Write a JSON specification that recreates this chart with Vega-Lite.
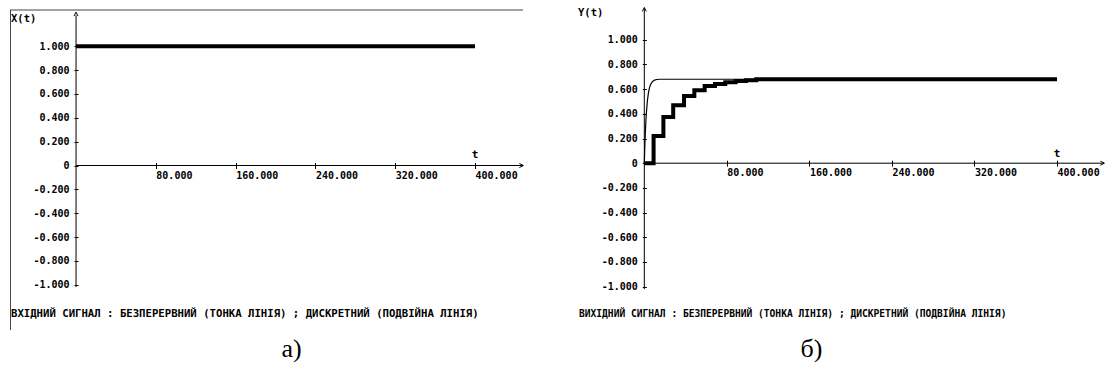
{
  "$schema": "https://vega.github.io/schema/vega-lite/v6.json",
  "padding": {"left": 9, "top": 5, "right": 0, "bottom": 0},
  "background": "white",
  "config": {"view": {"stroke": null}, "axis": {"grid": false, "labelOverlap": false, "labelBound": false, "labelFlush": false}},
  "spacing": 55,
  "bounds": "flush",
  "datasets": {
    "one": [{"k": 1}],
    "a_cont": [{"t": 0, "v": 1}, {"t": 400, "v": 1}],
    "a_disc": [{"t": 0, "v": 1}, {"t": 400, "v": 1}],
    "b_cont": [
      {"t": 0, "v": 0}, {"t": 0.5, "v": 0.138}, {"t": 1, "v": 0.248}, {"t": 1.5, "v": 0.336},
      {"t": 2, "v": 0.406}, {"t": 3, "v": 0.506}, {"t": 4, "v": 0.57}, {"t": 5, "v": 0.61},
      {"t": 6, "v": 0.636}, {"t": 8, "v": 0.662}, {"t": 10, "v": 0.673}, {"t": 12, "v": 0.678},
      {"t": 15, "v": 0.68}, {"t": 400, "v": 0.68}
    ],
    "b_disc": [
      {"t": 0, "v": 0}, {"t": 9, "v": 0.22}, {"t": 18.5, "v": 0.375}, {"t": 28, "v": 0.47},
      {"t": 38.5, "v": 0.545}, {"t": 48.5, "v": 0.59}, {"t": 58.5, "v": 0.625}, {"t": 68.5, "v": 0.642},
      {"t": 78.5, "v": 0.655}, {"t": 88.5, "v": 0.665}, {"t": 98.5, "v": 0.672}, {"t": 108.5, "v": 0.68},
      {"t": 400, "v": 0.68}
    ]
  },
  "hconcat": [
    {
      "width": 513,
      "height": 325,
      "title": {"text": "а)", "orient": "bottom", "anchor": "middle", "dx": 25, "offset": 4, "font": "Liberation Serif", "fontSize": 26, "fontWeight": "normal", "color": "black"},
      "layer": [
        {
          "data": {"name": "a_cont"},
          "mark": {"type": "line", "color": "black", "strokeWidth": 1.2},
          "encoding": {
            "x": {"field": "t", "type": "quantitative", "scale": {"domain": [-66.2, 448.1], "nice": false, "zero": false},
              "axis": {"orient": "bottom", "offset": -169.5, "domain": false, "tickSize": 6, "tickColor": "black", "tickCount": 30, "values": [80, 160, 240, 320, 400], "format": ".3f", "labelAlign": "left", "labelBaseline": "top", "labelPadding": 1.5, "labelDx": 1, "labelFont": "DejaVu Sans Mono", "labelFontSize": 10, "labelFontWeight": "bold", "labelColor": "black", "labelOverlap": false, "labelFlush": false, "labelBound": false, "title": null}},
            "y": {"field": "v", "type": "quantitative", "scale": {"domain": [-1.3968, 1.3297], "nice": false, "zero": false},
              "axis": {"orient": "left", "offset": -68, "domain": false, "tickSize": 4, "tickColor": "black", "tickCount": 30, "values": [-1, -0.8, -0.6, -0.4, -0.2, 0, 0.2, 0.4, 0.6, 0.8, 1], "labelExpr": "datum.value == 0 ? '0' : replace(format(datum.value, '.3f'), '\u2212', '-')", "labelPadding": 5, "labelFont": "DejaVu Sans Mono", "labelFontSize": 10, "labelFontWeight": "bold", "labelColor": "black", "labelOverlap": false, "labelBound": false, "title": null}}
          }
        },
        {
          "data": {"name": "a_disc"},
          "mark": {"type": "line", "color": "black", "strokeWidth": 4, "strokeCap": "butt"},
          "encoding": {
            "x": {"field": "t", "type": "quantitative", "scale": {"domain": [-66.2, 448.1]}},
            "y": {"field": "v", "type": "quantitative", "scale": {"domain": [-1.3968, 1.3297]}}
          }
        },
        {
          "data": {"name": "one"},
          "mark": {"type": "rule", "color": "black", "strokeWidth": 1},
          "encoding": {"x": {"datum": 0, "type": "quantitative"}, "y": {"datum": -1.02, "type": "quantitative"}, "y2": {"datum": 1.26}}
        },
        {
          "data": {"name": "one"},
          "mark": {"type": "rule", "color": "black", "strokeWidth": 1},
          "encoding": {"x": {"datum": 0, "type": "quantitative"}, "x2": {"datum": 448}, "y": {"datum": 0, "type": "quantitative"}}
        },
        {
          "data": {"name": "one"},
          "mark": {"type": "rule", "color": "#444444", "strokeWidth": 1},
          "encoding": {"x": {"datum": -66.2, "type": "quantitative"}, "x2": {"datum": 448.1}, "y": {"datum": 1.3045, "type": "quantitative"}}
        },
        {
          "data": {"name": "one"},
          "mark": {"type": "rule", "color": "#444444", "strokeWidth": 1},
          "encoding": {"x": {"datum": -65.7, "type": "quantitative"}, "y": {"datum": -1.38, "type": "quantitative"}, "y2": {"datum": 1.3045}}
        },
        {
          "data": {"name": "one"},
          "mark": {"type": "point", "shape": "M-1,1L0,-1L1,1", "size": 16, "filled": false, "stroke": "black", "strokeWidth": 1, "opacity": 1},
          "encoding": {"x": {"datum": 0, "type": "quantitative"}, "y": {"datum": 1.27, "type": "quantitative"}}
        },
        {
          "data": {"name": "one"},
          "mark": {"type": "point", "shape": "M-1,-1L1,0L-1,1", "size": 16, "filled": false, "stroke": "black", "strokeWidth": 1, "opacity": 1},
          "encoding": {"x": {"datum": 446.5, "type": "quantitative"}, "y": {"datum": 0, "type": "quantitative"}}
        },
        {
          "data": {"name": "one"},
          "mark": {"type": "text", "text": "X(t)", "align": "left", "baseline": "alphabetic", "dx": 1, "font": "DejaVu Sans Mono", "fontSize": 10.5, "fontWeight": "bold", "color": "black"},
          "encoding": {"x": {"datum": -66.2, "type": "quantitative"}, "y": {"datum": 1.204, "type": "quantitative"}}
        },
        {
          "data": {"name": "one"},
          "mark": {"type": "text", "text": "t", "align": "center", "baseline": "alphabetic", "font": "DejaVu Sans Mono", "fontSize": 11, "fontWeight": "bold", "color": "black"},
          "encoding": {"x": {"datum": 400, "type": "quantitative"}, "y": {"datum": 0.063, "type": "quantitative"}}
        },
        {
          "data": {"name": "one"},
          "mark": {"type": "text", "text": "ВХІДНИЙ СИГНАЛ : БЕЗПЕРЕРВНИЙ (ТОНКА ЛІНІЯ) ; ДИСКРЕТНИЙ (ПОДВІЙНА ЛІНІЯ)", "align": "left", "baseline": "middle", "dx": 1, "font": "DejaVu Sans Mono", "fontSize": 10.65, "fontWeight": "bold", "color": "black"},
          "encoding": {"x": {"datum": -66.2, "type": "quantitative"}, "y": {"datum": -1.2458, "type": "quantitative"}}
        }
      ]
    },
    {
      "width": 527,
      "height": 325,
      "title": {"text": "б)", "orient": "bottom", "anchor": "middle", "dx": -30, "offset": 4, "font": "Liberation Serif", "fontSize": 26, "fontWeight": "normal", "color": "black"},
      "layer": [
        {
          "data": {"name": "b_cont"},
          "mark": {"type": "line", "color": "black", "strokeWidth": 1.2},
          "encoding": {
            "x": {"field": "t", "type": "quantitative", "scale": {"domain": [-64.26, 446.5], "nice": false, "zero": false},
              "axis": {"orient": "bottom", "offset": -171.8, "domain": false, "tickSize": 6, "tickColor": "black", "tickCount": 30, "values": [80, 160, 240, 320, 400], "format": ".3f", "labelAlign": "left", "labelBaseline": "top", "labelPadding": 1.5, "labelDx": 1, "labelFont": "DejaVu Sans Mono", "labelFontSize": 10, "labelFontWeight": "bold", "labelColor": "black", "labelOverlap": false, "labelFlush": false, "labelBound": false, "title": null}},
            "y": {"field": "v", "type": "quantitative", "scale": {"domain": [-1.367, 1.265], "nice": false, "zero": false},
              "axis": {"orient": "left", "offset": -68.3, "domain": false, "tickSize": 4, "tickColor": "black", "tickCount": 30, "values": [-1, -0.8, -0.6, -0.4, -0.2, 0, 0.2, 0.4, 0.6, 0.8, 1], "labelExpr": "datum.value == 0 ? '0' : replace(format(datum.value, '.3f'), '\u2212', '-')", "labelPadding": 5, "labelFont": "DejaVu Sans Mono", "labelFontSize": 10, "labelFontWeight": "bold", "labelColor": "black", "labelOverlap": false, "labelBound": false, "title": null}}
          }
        },
        {
          "data": {"name": "b_disc"},
          "mark": {"type": "line", "color": "black", "strokeWidth": 4, "strokeCap": "butt", "interpolate": "step-after"},
          "encoding": {
            "x": {"field": "t", "type": "quantitative", "scale": {"domain": [-64.26, 446.5]}},
            "y": {"field": "v", "type": "quantitative", "scale": {"domain": [-1.367, 1.265]}}
          }
        },
        {
          "data": {"name": "one"},
          "mark": {"type": "rule", "color": "black", "strokeWidth": 1},
          "encoding": {"x": {"datum": 0, "type": "quantitative"}, "y": {"datum": -1.02, "type": "quantitative"}, "y2": {"datum": 1.255}}
        },
        {
          "data": {"name": "one"},
          "mark": {"type": "rule", "color": "black", "strokeWidth": 1},
          "encoding": {"x": {"datum": 0, "type": "quantitative"}, "x2": {"datum": 445.5}, "y": {"datum": 0, "type": "quantitative"}}
        },
        {
          "data": {"name": "one"},
          "mark": {"type": "point", "shape": "M-1,1L0,-1L1,1", "size": 16, "filled": false, "stroke": "black", "strokeWidth": 1, "opacity": 1},
          "encoding": {"x": {"datum": 0, "type": "quantitative"}, "y": {"datum": 1.245, "type": "quantitative"}}
        },
        {
          "data": {"name": "one"},
          "mark": {"type": "point", "shape": "M-1,-1L1,0L-1,1", "size": 16, "filled": false, "stroke": "black", "strokeWidth": 1, "opacity": 1},
          "encoding": {"x": {"datum": 444, "type": "quantitative"}, "y": {"datum": 0, "type": "quantitative"}}
        },
        {
          "data": {"name": "one"},
          "mark": {"type": "text", "text": "Y(t)", "align": "left", "baseline": "alphabetic", "font": "DejaVu Sans Mono", "fontSize": 10.5, "fontWeight": "bold", "color": "black"},
          "encoding": {"x": {"datum": -64.26, "type": "quantitative"}, "y": {"datum": 1.192, "type": "quantitative"}}
        },
        {
          "data": {"name": "one"},
          "mark": {"type": "text", "text": "t", "align": "center", "baseline": "alphabetic", "font": "DejaVu Sans Mono", "fontSize": 11, "fontWeight": "bold", "color": "black"},
          "encoding": {"x": {"datum": 400, "type": "quantitative"}, "y": {"datum": 0.05, "type": "quantitative"}}
        },
        {
          "data": {"name": "one"},
          "mark": {"type": "text", "text": "ВИХІДНИЙ СИГНАЛ : БЕЗПЕРЕРВНИЙ (ТОНКА ЛІНІЯ) ; ДИСКРЕТНИЙ (ПОДВІЙНА ЛІНІЯ)", "align": "left", "baseline": "middle", "font": "DejaVu Sans Mono", "fontSize": 9.6, "fontWeight": "bold", "color": "black"},
          "encoding": {"x": {"datum": -63.3, "type": "quantitative"}, "y": {"datum": -1.221, "type": "quantitative"}}
        }
      ]
    }
  ]
}
